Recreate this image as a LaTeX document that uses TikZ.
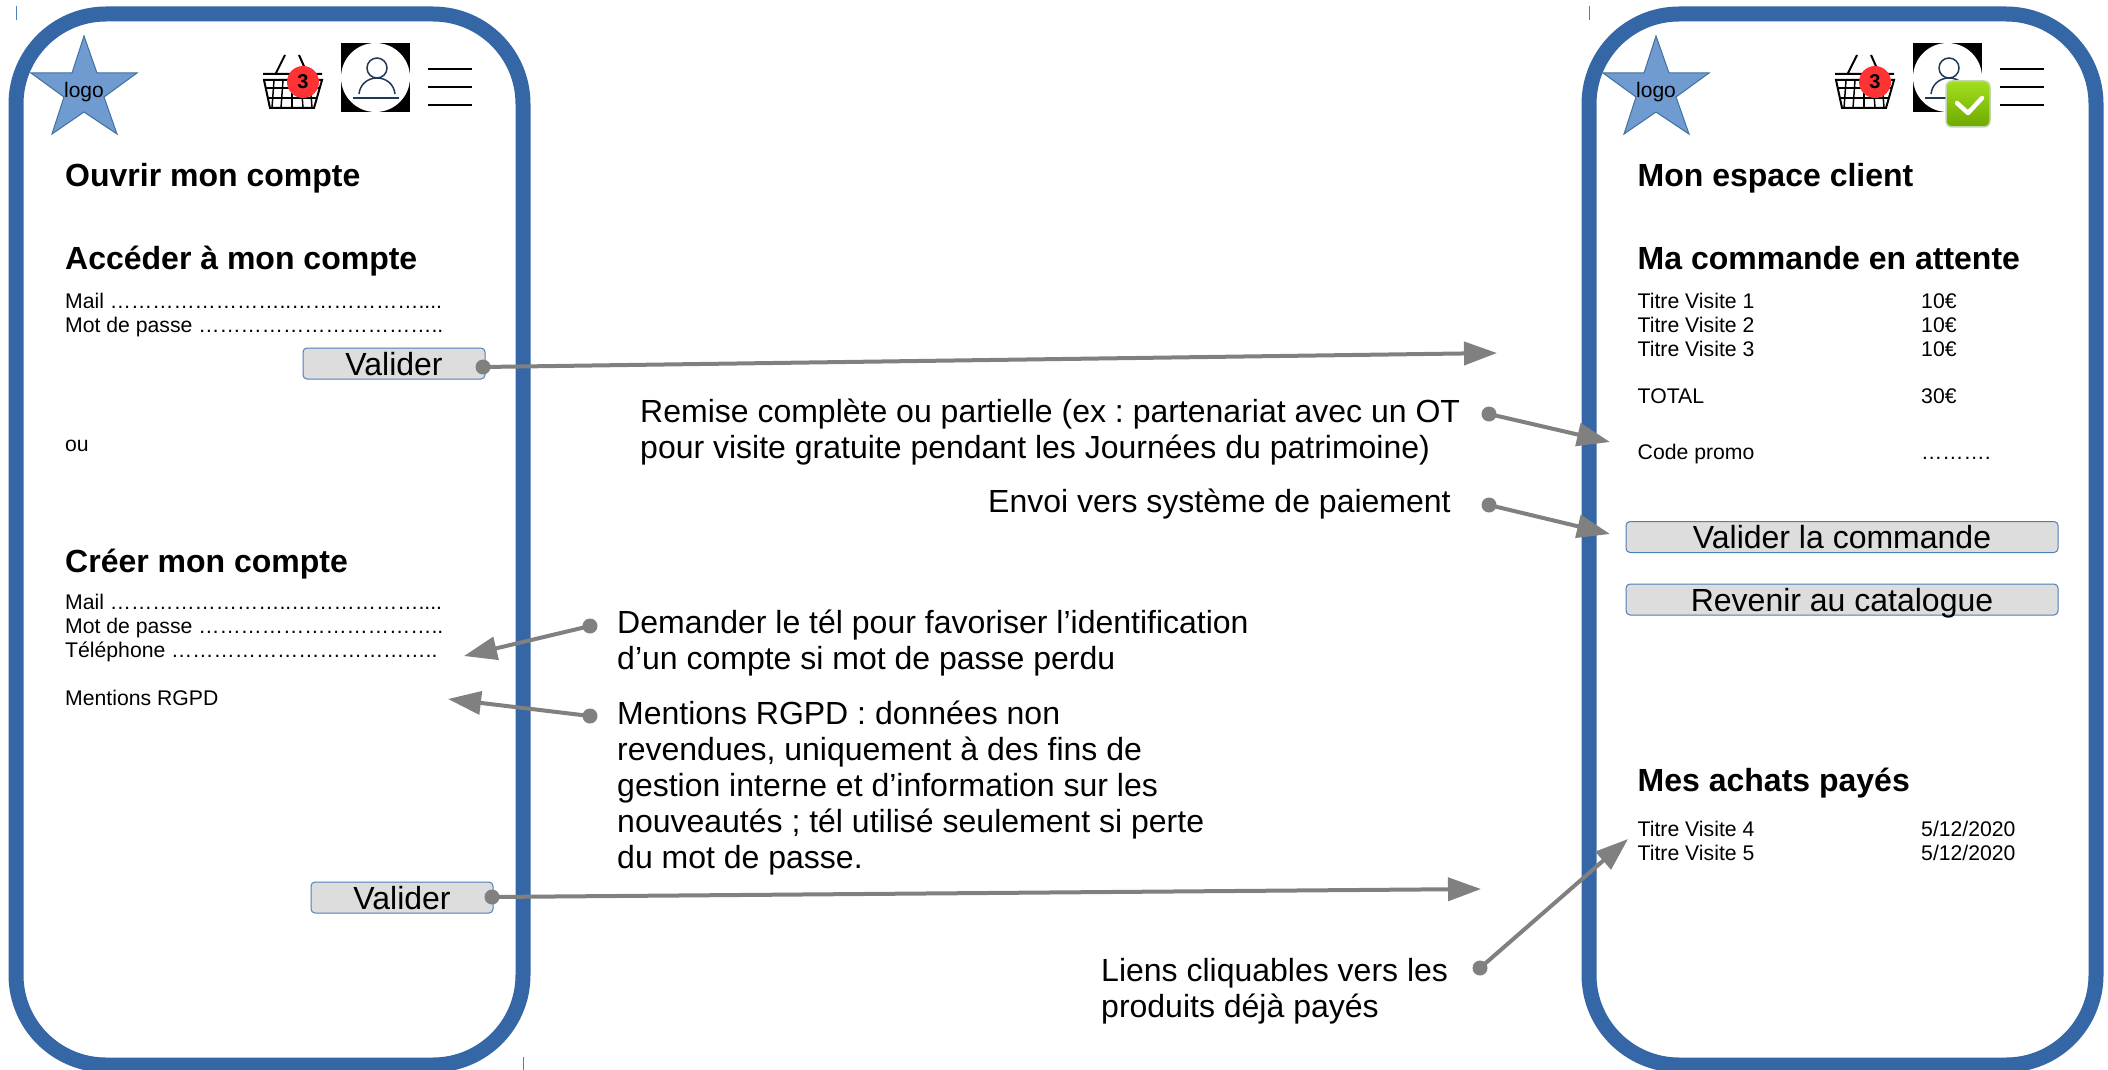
\documentclass[tikz,border=0pt]{standalone}
\usepackage{fontspec}
\setmainfont{Liberation Sans}
\definecolor{panelblue}{HTML}{3566A5}
\definecolor{starfill}{HTML}{6F9BD1}
\definecolor{starline}{HTML}{41719C}
\definecolor{btnfill}{HTML}{DDDDDD}
\definecolor{btnline}{HTML}{4F7FB8}
\definecolor{conn}{HTML}{808080}
\definecolor{navy}{HTML}{1F3A55}
\definecolor{okhi}{HTML}{A2E01E}
\definecolor{oklo}{HTML}{6FA800}
\definecolor{okedge}{HTML}{C4D6B0}
\usetikzlibrary{arrows.meta}
\tikzset{
  panel/.style={draw=panelblue,line width=15pt,rounded corners=90pt},
  head/.style={anchor=base west,inner sep=0pt,font=\fontsize{32}{36}\selectfont\bfseries},
  small/.style={anchor=base west,inner sep=0pt,font=\fontsize{21.2}{24}\selectfont},
  note/.style={anchor=north west,inner sep=0pt,align=left,font=\fontsize{32}{36}\selectfont},
  btn/.style={draw=btnline,fill=btnfill,line width=1pt,rounded corners=4pt,inner sep=0pt,text height=23pt,text depth=0pt,font=\fontsize{32}{36}\selectfont},
  link/.style={draw=conn,line width=4pt,-{Triangle[length=33pt,width=23pt]}},
  dotend/.style={circle,fill=conn,inner sep=0pt,minimum size=15pt},
  tick/.style={draw=btnline,line width=1pt},
}
\newcommand{\screenheader}[1]{%
  \begin{scope}[xshift=#1pt]
    \draw[fill=starfill,draw=starline,line width=1pt] (84,36)--(97,73)--(137,73)--(104,97)--(117,134)--(84,112)--(52,134)--(64,97)--(31,73)--(72,73)--cycle;
    \node[inner sep=0pt,font=\fontsize{21}{24}\selectfont] (logo#1) at (84,92) {logo};
    % basket
    \draw[line width=2pt] (276,73)--(285,55) (307,73)--(299,55) (263,74)--(322,74);
    \draw[line width=2pt] (264,80)--(322,80)--(314,108)--(270,108)--cycle;
    \draw[line width=1.5pt] (266,88)--(320,88) (268,98)--(317,98);
    \foreach \x/\y in {274/272,283/281,292/292,301/303,310/312}{\draw[line width=1.5pt] (\x,80)--(\y,108);}
    \node[circle,fill=red!80!white,inner sep=0pt,minimum size=32pt,font=\fontsize{20}{22}\selectfont\bfseries] (badge#1) at (303,82) {3};
    % user
    \fill[black] (341,43) rectangle (410,112);
    \fill[white] (375.5,77.5) circle[radius=34.5];
    \draw[navy,line width=1.5pt] (377,68) circle[radius=10];
    \draw[navy,line width=1.5pt] (359,94) .. controls (360,84) and (368,78) .. (377,78) .. controls (386,78) and (394,84) .. (395,94);
    \draw[navy,line width=2.5pt] (353,98)--(399,98);
    % menu
    \draw[line width=1.5pt] (428,69)--(472,69) (428,87)--(472,87) (428,105)--(472,105);
  \end{scope}}
\begin{document}
\frenchspacing
\begin{tikzpicture}[x=1pt,y=-1pt]
\useasboundingbox (0,0) rectangle (2108,1070);
\clip (0,0) rectangle (2108,1070);
\fill[white] (0,0) rectangle (2108,1070);
\draw[panel] (16,14) rectangle (523,1065);
\draw[panel] (1589,14) rectangle (2096,1065);
\draw[tick] (16,6)--(16,20) (1589,6)--(1589,20) (523,1057)--(523,1070);
\screenheader{0}
\screenheader{1572}
% green check
\shade[top color=okhi,bottom color=oklo,draw=okedge,line width=1.5pt,rounded corners=6pt] (1946,81) rectangle (1990,127);
\draw[white,line width=4.5pt,line cap=round,line join=round] (1957,103)--(1968,113)--(1982,98);
% left text
\node[head] (t1) at (65,186) {Ouvrir mon compte};
\node[head] (t2) at (65,269) {Accéder à mon compte};
\node[small] (t3) at (65,308) {Mail ……………………..………………....};
\node[small] (t4) at (65,332) {Mot de passe ……………………………..};
\node[btn,minimum width=182pt,minimum height=31pt] (b1) at (394,363.5) {Valider};
\node[small] (t5) at (65,451) {ou};
\node[head] (t6) at (65,572) {Créer mon compte};
\node[small] (t7) at (65,609) {Mail ……………………..………………....};
\node[small] (t8) at (65,633) {Mot de passe ……………………………..};
\node[small] (t9) at (65,657) {Téléphone ………………………………..};
\node[small] (t10) at (65,705.5) {Mentions RGPD};
\node[btn,minimum width=182pt,minimum height=31pt] (b2) at (402,897.5) {Valider};
% right text
\node[head] (r1) at (1637.5,186) {Mon espace client};
\node[head] (r2) at (1637.5,269) {Ma commande en attente};
\node[small] (r3) at (1637.5,308) {Titre Visite 1};
\node[small] (r4) at (1637.5,332) {Titre Visite 2};
\node[small] (r5) at (1637.5,356) {Titre Visite 3};
\node[small] (r3p) at (1921,308) {10€};
\node[small] (r4p) at (1921,332) {10€};
\node[small] (r5p) at (1921,356) {10€};
\node[small] (r6) at (1637.5,403.5) {TOTAL};
\node[small] (r6p) at (1921,403.5) {30€};
\node[small] (r7) at (1637.5,459) {Code promo};
\node[small] (r7p) at (1921,459) {……….};
\node[btn,minimum width=432pt,minimum height=31pt] (b3) at (1842,537) {Valider la commande};
\node[btn,minimum width=432pt,minimum height=31pt] (b4) at (1842,599.5) {Revenir au catalogue};
\node[head] (r8) at (1637.5,791) {Mes achats payés};
\node[small] (r9) at (1637.5,836) {Titre Visite 4};
\node[small] (r10) at (1637.5,860) {Titre Visite 5};
\node[small] (r9p) at (1921,836) {5/12/2020};
\node[small] (r10p) at (1921,860) {5/12/2020};
% notes
\node[note] (n1) at (640,398.5) {Remise complète ou partielle (ex : partenariat avec un OT\\pour visite gratuite pendant les Journées du patrimoine)};
\node[note] (n2) at (988,489) {Envoi vers système de paiement};
\node[note] (n3) at (617,610) {Demander le tél pour favoriser l’identification\\d’un compte si mot de passe perdu};
\node[note] (n4) at (617,701) {Mentions RGPD : données non\\revendues, uniquement à des fins de\\gestion interne et d’information sur les\\nouveautés ; tél utilisé seulement si perte\\du mot de passe.};
\node[note] (n5) at (1101,958) {Liens cliquables vers les\\produits déjà payés};
% connector ends
\node[dotend] (d1) at (483,367) {};
\node[dotend] (d2) at (1489,414) {};
\node[dotend] (d3) at (1489,505) {};
\node[dotend] (d4) at (590,626) {};
\node[dotend] (d5) at (590,716) {};
\node[dotend] (d6) at (492,897) {};
\node[dotend] (d7) at (1480,968) {};
\coordinate (e1) at (1497,353);
\coordinate (e2) at (1610,442);
\coordinate (e3) at (1610,534);
\coordinate (e4) at (464,656);
\coordinate (e5) at (448,699);
\coordinate (e6) at (1481,889);
\coordinate (e7) at (1628,839);
\foreach \i in {1,...,7}{\draw[link] (d\i.center)--(e\i);}
\end{tikzpicture}
\end{document}
